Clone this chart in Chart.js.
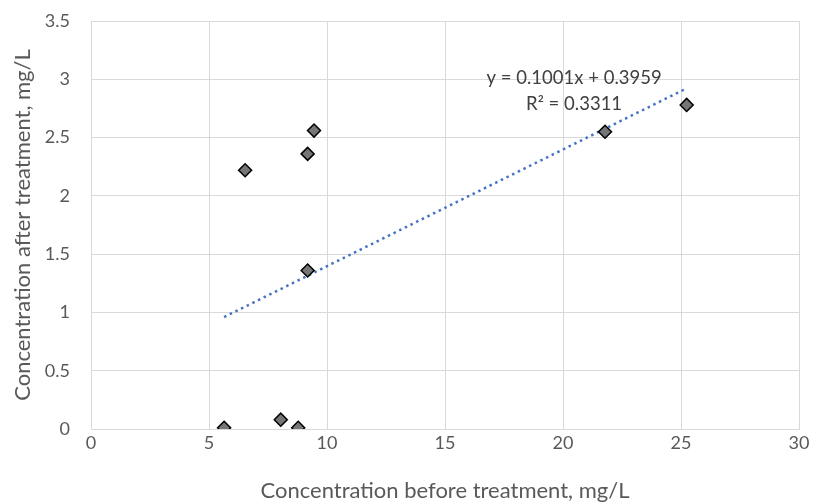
<!DOCTYPE html>
<html>
<head>
<meta charset="utf-8">
<script src="https://cdn.jsdelivr.net/npm/chart.js@4/dist/chart.umd.min.js"></script>
<style>
  html, body { margin: 0; padding: 0; background: #fff; }
  #wrap { width: 815px; height: 504px; }
</style>
</head>
<body>
<div id="wrap"><canvas id="chart"></canvas></div>
<script>
// Data
const beforeVals = [5.64, 6.53, 8.04, 8.78, 9.18, 9.18, 9.45, 21.78, 25.24];
const afterVals  = [0.01, 2.22, 0.08, 0.01, 2.36, 1.36, 2.56, 2.55, 2.78];

// trendline as printed on the chart
const slope = 0.1001;
const intercept = 0.3959;
const rSquared = 0.3311;

const xTicks = [0, 5, 10, 15, 20, 25, 30];
const yTicks = [0, 0.5, 1, 1.5, 2, 2.5, 3, 3.5];

const points = beforeVals.map((x, i) => ({ x: x, y: afterVals[i] }));
const xMin = Math.min(...beforeVals);
const xMax = Math.max(...beforeVals);
const trend = [
    { x: xMin, y: slope * xMin + intercept },
    { x: xMax, y: slope * xMax + intercept }
];

const fontFamily = 'Lato, "Open Sans", sans-serif';
const gridColor = '#d9d9d9';

// equation label next to the trendline
const equationLabel = {
    id: 'equationLabel',
    afterDatasetsDraw(chart) {
        const ctx = chart.ctx;
        const xs = chart.scales.x;
        const ys = chart.scales.y;
        const cx = xs.getPixelForValue(20.47);
        ctx.save();
        ctx.fillStyle = '#404040';
        ctx.font = '18.5px ' + fontFamily;
        ctx.textAlign = 'center';
        ctx.textBaseline = 'middle';
        ctx.fillText('y = ' + slope.toFixed(4) + 'x + ' + intercept.toFixed(4), cx, ys.getPixelForValue(3.01));
        ctx.fillText('R\u00B2 = ' + rSquared.toFixed(4), cx, ys.getPixelForValue(2.79));
        ctx.restore();
    }
};

new Chart(document.getElementById('chart').getContext('2d'), {
    type: 'scatter',
    data: {
        datasets: [
            {
                label: 'Concentration',
                data: points,
                pointStyle: 'rectRot',
                pointRadius: 6.5,
                pointHoverRadius: 6.5,
                pointBackgroundColor: '#767676',
                pointBorderColor: '#000000',
                pointBorderWidth: 1.5,
                order: 1
            },
            {
                label: 'Trend',
                type: 'line',
                data: trend,
                borderColor: '#4472c4',
                borderWidth: 2.5,
                borderDash: [2.5, 3.8],
                pointRadius: 0,
                fill: false,
                order: 2
            }
        ]
    },
    options: {
        responsive: true,
        maintainAspectRatio: false,
        animation: false,
        layout: { padding: { top: 21, right: 16, left: 0, bottom: 0 } },
        plugins: {
            legend: { display: false },
            tooltip: { enabled: false }
        },
        scales: {
            x: {
                type: 'linear',
                min: 0,
                max: 30,
                afterBuildTicks: (scale) => { scale.ticks = xTicks.map(v => ({ value: v })); },
                afterFit: (scale) => { scale.height = 75; },
                grid: { color: gridColor, drawTicks: false },
                border: { color: gridColor },
                ticks: { color: '#595959', font: { family: fontFamily, size: 18 }, padding: 3 },
                title: {
                    display: true,
                    text: 'Concentration before treatment, mg/L',
                    color: '#595959',
                    font: { family: fontFamily, size: 22 },
                    padding: { top: 0, bottom: 0 }
                }
            },
            y: {
                type: 'linear',
                min: 0,
                max: 3.5,
                afterBuildTicks: (scale) => { scale.ticks = yTicks.map(v => ({ value: v })); },
                afterFit: (scale) => {
                    scale.width = 91;
                    scale.paddingTop = 0;
                    scale.paddingBottom = 0;
                },
                grid: { color: gridColor, drawTicks: false },
                border: { color: gridColor },
                ticks: {
                    color: '#595959',
                    font: { family: fontFamily, size: 18 },
                    padding: 21,
                    callback: (v) => String(v)
                },
                title: {
                    display: true,
                    text: 'Concentration after treatment, mg/L',
                    color: '#595959',
                    font: { family: fontFamily, size: 22 },
                    padding: { top: 10, bottom: 0 }
                }
            }
        }
    },
    plugins: [equationLabel]
});
</script>
</body>
</html>
